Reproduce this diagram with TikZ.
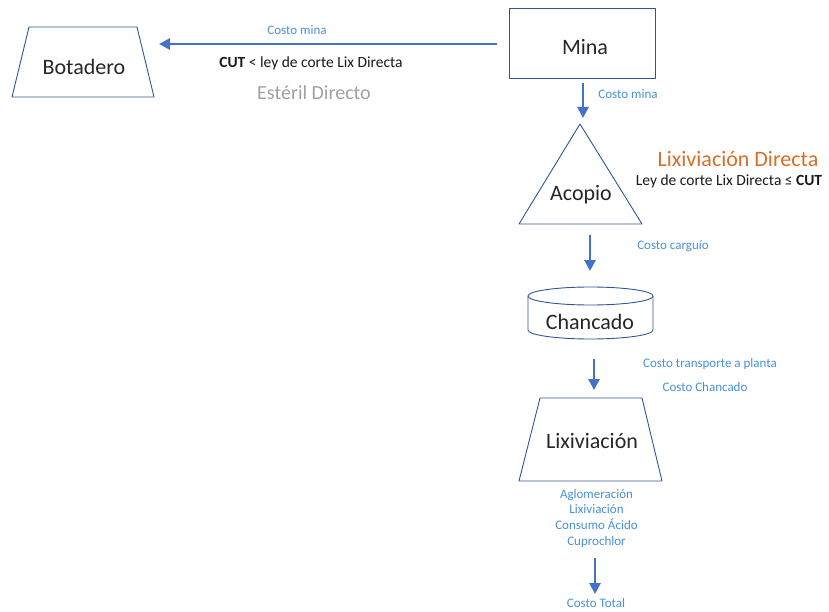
\documentclass[tikz,border=0pt]{standalone}
\usepackage{fontspec}
\setmainfont{Carlito}
\usetikzlibrary{arrows.meta, positioning}
\definecolor{flowblue}{RGB}{68,114,196}
\definecolor{edgeblue}{RGB}{47,85,151}
\definecolor{costblue}{RGB}{70,145,215}
\definecolor{lixorange}{RGB}{214,110,40}
\definecolor{estgray}{RGB}{160,160,160}
\tikzset{
  shapeline/.style={draw=edgeblue, line width=0.9pt, line join=round},
  flow/.style={-{Triangle[length=11pt, width=11pt]}, draw=flowblue, line width=2.8pt},
  stage/.style={anchor=base, font=\fontsize{22}{26}\selectfont, text=black!85},
  cost/.style={anchor=base, font=\fontsize{13}{15.7}\selectfont, text=costblue},
  rule/.style={anchor=base, font=\fontsize{15.5}{18}\selectfont, text=black!90},
}

\begin{document}
\begin{tikzpicture}[x=1pt, y=-1pt]
  \useasboundingbox (0,0) rectangle (829,612);
  % outlines
  \draw[shapeline] (29,27) -- (137,27) -- (154,97) -- (12,97) -- cycle;
  \draw[shapeline] (509,8) rectangle (655,78);
  \draw[shapeline] (580,124) -- (642,224) -- (519,224) -- cycle;
  \draw[shapeline] (590.5,296) ellipse [x radius=62.5, y radius=9];
  \draw[shapeline] (528,296) -- (528,330)
    arc [start angle=180, end angle=0, x radius=62.5, y radius=9] -- (653,296);
  \draw[shapeline] (540,398) -- (642,398) -- (662,481) -- (519,481) -- cycle;
  % stage names
  \node[stage] (botadero) at (84,75) {Botadero};
  \node[stage] (mina) at (585,55) {Mina};
  \node[stage] (acopio) at (581,201) {Acopio};
  \node[stage] (chancado) at (590,329) {Chancado};
  \node[stage] (lixiviacion) at (592,448) {Lixiviación};
  % direct waste branch
  \node[cost] (costo-mina-1) at (297,35) {Costo mina};
  \node[rule] (cut-menor) at (311,68) {\textbf{CUT} < ley de corte Lix Directa};
  \node[stage, text=estgray, font=\fontsize{20}{24}\selectfont] (esteril) at (314,100) {Estéril Directo};
  % direct leach branch
  \node[stage, text=lixorange] (lix-directa) at (738,167) {Lixiviación Directa};
  \node[rule] (cut-mayor) at (729,186) {Ley de corte Lix Directa ≤ \textbf{CUT}};
  % cost labels
  \node[cost] (costo-mina-2) at (628,99) {Costo mina};
  \node[cost] (costo-carguio) at (673,249) {Costo carguío};
  \node[cost] (costo-transporte) at (710,367) {Costo transporte a planta};
  \node[cost] (costo-chancado) at (705,391) {Costo Chancado};
  \node[cost, anchor=north, align=center] (costo-lix) at (596.5,485.5)
    {Aglomeración\\Lixiviación\\Consumo Ácido\\Cuprochlor};
  \node[cost] (costo-total) at (596,607) {Costo Total};
  % arrow ends
  \coordinate (mina-w) at (497,44);
  \coordinate (botadero-e) at (159,44);
  \coordinate (mina-s) at (583,83);
  \coordinate (acopio-n) at (583,118);
  \coordinate (acopio-s) at (590,235);
  \coordinate (chancado-n) at (590,271);
  \coordinate (chancado-s) at (594,359);
  \coordinate (lix-n) at (594,390);
  \coordinate (lix-s) at (595,558);
  \coordinate (total-n) at (595,594);
  % flows
  \draw[flow] (mina-w) -- (botadero-e);
  \draw[flow] (mina-s) -- (acopio-n);
  \draw[flow] (acopio-s) -- (chancado-n);
  \draw[flow] (chancado-s) -- (lix-n);
  \draw[flow] (lix-s) -- (total-n);
\end{tikzpicture}
\end{document}
